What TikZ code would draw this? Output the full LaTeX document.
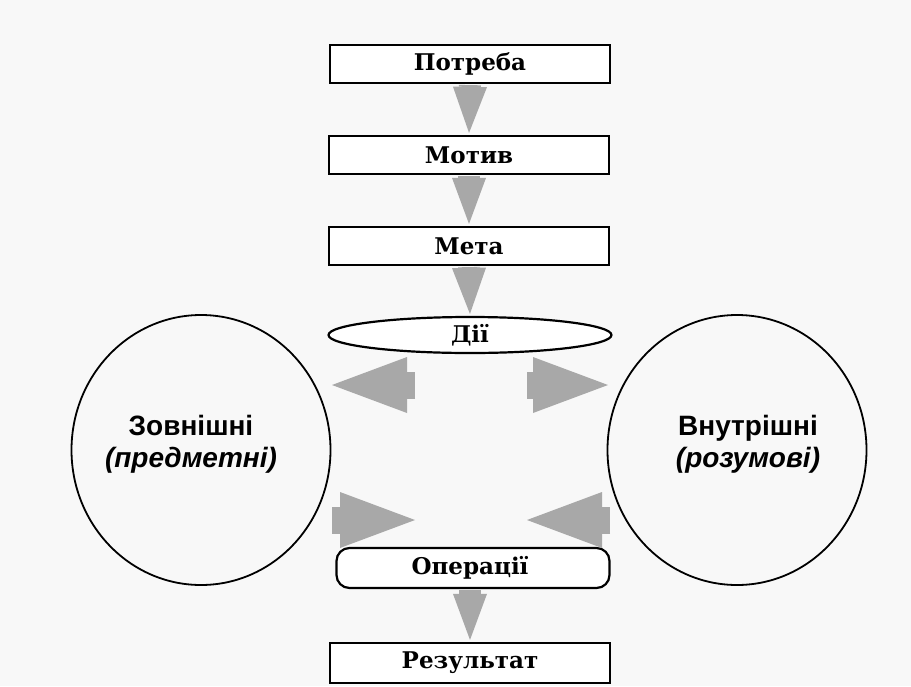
\documentclass[tikz,border=0pt]{standalone}
\usepackage{fontspec}
\setmainfont{DejaVu Serif}
\setsansfont{Liberation Sans}
\usetikzlibrary{arrows.meta,shapes.geometric,calc}
\definecolor{paper}{RGB}{248,248,248}
\definecolor{arrgray}{RGB}{168,168,168}
\tikzset{
  stagebox/.style={rectangle,draw,fill=white,line width=2.2pt,minimum width=280pt,
    minimum height=38pt,inner sep=0pt,font=\bfseries\fontsize{23}{26}\selectfont},
  actell/.style={ellipse,draw,fill=white,line width=2.2pt,minimum width=283pt,
    minimum height=36pt,inner sep=0pt,font=\bfseries\fontsize{23}{26}\selectfont},
  opbox/.style={stagebox,rounded corners=13pt,minimum width=273pt,minimum height=40pt},
  kindcirc/.style={ellipse,draw,line width=1.8pt,minimum width=259pt,minimum height=270pt},
  kindtext/.style={align=center,font=\sffamily\bfseries\fontsize{28}{32}\selectfont},
  downarr/.style={arrgray,line width=22pt,-{Triangle[width=34pt,length=46pt,line width=0pt]},
    shorten <=1pt,shorten >=2pt},
  sidearr/.style={arrgray,line width=27pt,-{Triangle[width=56pt,length=75pt,line width=0pt]}}
}
\begin{document}
\begin{tikzpicture}[x=1pt,y=-1pt]
  \fill[paper] (0,0) rectangle (911,686);
  \useasboundingbox (0,0) rectangle (911,686);
  % chain of stages
  \node[stagebox] (need) at (470,64) {Потреба};
  \node[stagebox] (motive) at (469,155) {Мотив};
  \node[stagebox] (goal) at (469,246) {Мета};
  \node[actell] (acts) at (470,335) {Дії};
  \node[opbox] (ops) at (473,568) {\hspace*{-6pt}Операції};
  \node[stagebox,minimum height=40pt] (result) at (470,663) {Результат};
  % two kinds of actions
  \node[kindcirc] (outer) at (201,450) {};
  \node[kindcirc] (inner) at (737,450) {};
  \node[kindtext] (outert) at ($(outer.center)+(-10,-6)$) {Зовнішні\\\textit{(предметні)}};
  \node[kindtext] (innert) at ($(inner.center)+(11,-6)$) {Внутрішні\\\textit{(розумові)}};
  % arrows
  \draw[downarr] (need.south) -- (motive.north);
  \draw[downarr] (motive.south) -- (goal.north);
  \draw[downarr] (goal.south) -- (acts.north);
  \draw[downarr] (ops.south -| result.north) -- (result.north);
  \coordinate (ulA) at (415,385);
  \coordinate (ulB) at (332,385);
  \coordinate (urA) at (527,385);
  \coordinate (urB) at (608,385);
  \coordinate (llA) at (332,520);
  \coordinate (llB) at (415,520);
  \coordinate (lrA) at (610,520);
  \coordinate (lrB) at (527,520);
  \draw[sidearr] (ulA) -- (ulB);
  \draw[sidearr] (urA) -- (urB);
  \draw[sidearr] (llA) -- (llB);
  \draw[sidearr] (lrA) -- (lrB);
\end{tikzpicture}
\end{document}
